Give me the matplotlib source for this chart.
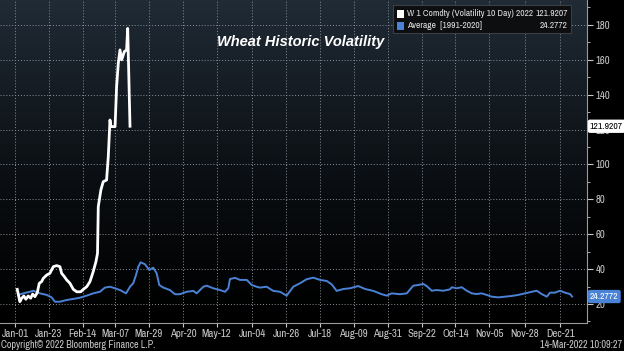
import numpy as np
import matplotlib.pyplot as plt
from matplotlib.patches import Rectangle

# day of year (Jan-01 = 0)
w_day = [1.5, 3.2, 4.4, 5.8, 7.1, 8.6, 10.2, 11.5, 13, 14.5, 15.8, 17.3, 18.4, 20.6, 22.7,
         24.9, 27.1, 29.2, 30.3, 31.8, 33.6, 35.7, 37.9, 40.1, 42.7, 44.4, 46.6, 48.7, 50.8,
         52.6, 53.6, 54.1, 55.8, 57.3, 59.5, 60.6, 61.7, 62.3, 65, 66, 67.1, 68.2, 69.3, 71,
         72.5, 73.2, 74.7]
w_vol = [28.4, 21.3, 23.3, 24.6, 22.7, 24.6, 23.3, 25.7, 24.2, 26.5, 31.9, 32.8, 34.7, 36.6, 37.6,
         41.4, 42, 41.4, 37.6, 36, 33.8, 31.9, 28.4, 27, 27, 28.4, 29.9, 32.8, 38.5,
         44.3, 49, 75.8, 85.4, 90.1, 91.1, 104.5, 125.5, 121.7, 121.7, 144.6, 158, 165.7, 160, 164.7,
         165.7, 178, 121.92]

avg_day = [2.1, 5.4, 9.7, 11.9, 16.2, 20.6, 23.8, 26, 29.2, 33.6, 37.9, 42.2, 46.6, 50.8, 55.2,
           58.4, 61.7, 64.9, 68.2, 72.1, 74.7, 76.8, 78.6, 80.1, 81.6, 84.4, 87.2, 89.8, 92, 93.7,
           96.3, 100.6, 103.9, 107.1, 111.5, 115.8, 118, 122.3, 124.5, 128.8, 133.1, 136.4, 138.5,
           139.6, 142.9, 146.1, 150.5, 153.7, 156.9, 159.1, 163.4, 167.7, 172.1, 176.4, 180.7,
           185.1, 189.4, 193.7, 198.1, 202.4, 205.6, 208.9, 213.2, 217.5, 222.9, 227.3, 232.7,
           238.1, 241.4, 244.6, 250, 254.4, 258.6, 261.9, 265.1, 267.3, 270.6, 273.8, 278.1,
           282.5, 283.6, 286.8, 290.1, 293.3, 296.6, 299.8, 303, 306.3, 309.5, 313.8, 318.2,
           322.5, 326.8, 331.2, 335.5, 338.8, 342, 345.3, 347.4, 350.6, 353.9, 357.1, 360.4, 361.7]
avg_vol = [25.2, 26.1, 27, 27.6, 26.1, 25.2, 23.8, 21.3, 21.3, 22.3, 22.9, 23.6, 24.8, 26.1, 27,
           29.4, 29.9, 29, 28, 26.1, 29.9, 31.9, 36.6, 41.4, 43.9, 42.8, 39.5, 40.8, 37.6, 30.9,
           29.4, 28, 25.6, 25.6, 27, 27.5, 26.1, 29.9, 30.5, 29, 28, 27, 29,
           34.3, 35, 33.8, 33.8, 30.9, 29.9, 29.4, 29.9, 27.5, 27, 24.8, 29.9,
           31.9, 34.2, 35.1, 33.8, 33.2, 31.3, 27.5, 28.6, 29, 30.3, 28.6, 27.5,
           25.6, 24.8, 26.1, 25.6, 26.1, 30.5, 30.9, 31.5, 30.3, 27.6, 28, 27.6,
           28.4, 29.6, 29, 29.6, 27.6, 26.1, 25.7, 26.1, 25.2, 24.2, 23.8, 24.2,
           24.6, 25.2, 26.1, 27, 27.6, 25.7, 24.2, 26.5, 26.5, 27.6, 26.5, 25.7, 24.28]

tick_days = [0, 22, 44, 65, 87, 109, 131, 154, 176, 198, 220, 242, 264, 286, 308, 331, 354]
tick_lbls = ['Jan-01', 'Jan-23', 'Feb-14', 'Mar-07', 'Mar-29', 'Apr-20', 'May-12', 'Jun-04',
             'Jun-26', 'Jul-18', 'Aug-09', 'Aug-31', 'Sep-22', 'Oct-14', 'Nov-05', 'Nov-28', 'Dec-21']

narrow = ['Archivo Narrow', 'Liberation Sans', 'DejaVu Sans']
blue = '#4a82d6'
grey = '#c8c8c8'

fig = plt.figure(figsize=(6.24, 3.51), dpi=100, facecolor='black')
ax = fig.add_axes([0, 28 / 351, 587 / 624, 323 / 351])
ax.set_facecolor('black')

# background gradient
grad = np.linspace(1, 0, 256).reshape(-1, 1) ** 1.3
cols = np.zeros((256, 1, 3))
top = np.array([32, 43, 54]) / 255
for i in range(3):
    cols[:, :, i] = grad * top[i]
ax.imshow(cols, extent=[0, 1, 0, 1], transform=ax.transAxes, aspect='auto', zorder=0)

ax.plot(avg_day, avg_vol, color=blue, lw=1.4, zorder=3)
ax.plot(w_day, w_vol, color='white', lw=2.0, zorder=4)

ax.set_xlim(-9.7, 371.4)
ax.set_ylim(9.1, 194.3)

ax.set_xticks(tick_days)
ax.set_xticklabels(tick_lbls, family=narrow, fontsize=7.8, color=grey)
ax.yaxis.tick_right()
ax.set_yticks(range(20, 181, 20))
ax.set_yticks(range(10, 191, 10), minor=True)
ax.set_yticklabels([str(v) for v in range(20, 181, 20)], family=narrow, fontsize=7.8, color=grey)
ax.tick_params(axis='x', colors=grey, length=3, width=0.8, pad=1)
ax.tick_params(axis='y', which='major', colors=grey, length=4, width=0.8, pad=2)
ax.tick_params(axis='y', which='minor', colors=grey, length=2, width=0.6)
ax.grid(True, which='major', color='#8a9098', ls=(0, (1, 2)), lw=0.7)
for s in ['top', 'left']:
    ax.spines[s].set_visible(False)
for s in ['right', 'bottom']:
    ax.spines[s].set_color('#9a9a9a')
    ax.spines[s].set_linewidth(0.8)

ax.text(0.512, 0.87, 'Wheat Historic Volatility', transform=ax.transAxes, color='white',
        fontsize=10.5, fontweight='bold', style='italic', ha='center', va='center',
        family=['Liberation Sans', 'DejaVu Sans'], zorder=6)

# last value labels
ax.text(1.005, w_vol[-1], '121.9207', transform=ax.get_yaxis_transform(), color='black',
        fontsize=7.0, family=narrow, ha='left', va='center', zorder=7, clip_on=False,
        bbox=dict(boxstyle='round,pad=0.15', fc='white', ec='white'))
ax.text(1.005, avg_vol[-1], '24.2772', transform=ax.get_yaxis_transform(), color='white',
        fontsize=7.0, family=narrow, ha='left', va='center', zorder=7, clip_on=False,
        bbox=dict(boxstyle='round,pad=0.15', fc=blue, ec=blue))

# legend box
W, H = 624, 351
fig.patches.append(Rectangle((393 / W, 1 - 33 / H), 178 / W, 28 / H, transform=fig.transFigure,
                             fc='#0c0e10', ec='#3a3f45', lw=0.8, zorder=8))
fig.patches.append(Rectangle((397 / W, 1 - 18 / H), 7 / W, 8 / H, transform=fig.transFigure,
                             fc='white', ec='none', zorder=9))
fig.patches.append(Rectangle((397 / W, 1 - 30 / H), 7 / W, 8 / H, transform=fig.transFigure,
                             fc=blue, ec='none', zorder=9))
leg_rows = [('W 1 Comdty (Volatility 10 Day) 2022', '121.9207', 14),
            ('Average  [1991-2020]', '24.2772', 26)]
for name, val, yy in leg_rows:
    fig.text(407 / W, 1 - yy / H, name, color='#e0e0e0', fontsize=6.8, family=narrow,
             va='center', ha='left', zorder=10)
    fig.text(568 / W, 1 - yy / H, val, color='#e0e0e0', fontsize=6.8, family=narrow,
             va='center', ha='right', zorder=10)

fig.text(1 / W, 1 - 345.5 / H, 'Copyright\u00a9 2022 Bloomberg Finance L.P.', color=grey,
         fontsize=7.3, family=narrow, va='center', ha='left')
fig.text(622 / W, 1 - 345.5 / H, '14-Mar-2022 10:09:27', color=grey,
         fontsize=7.3, family=narrow, va='center', ha='right')

fig.savefig('out.png', dpi=100, facecolor='black')
